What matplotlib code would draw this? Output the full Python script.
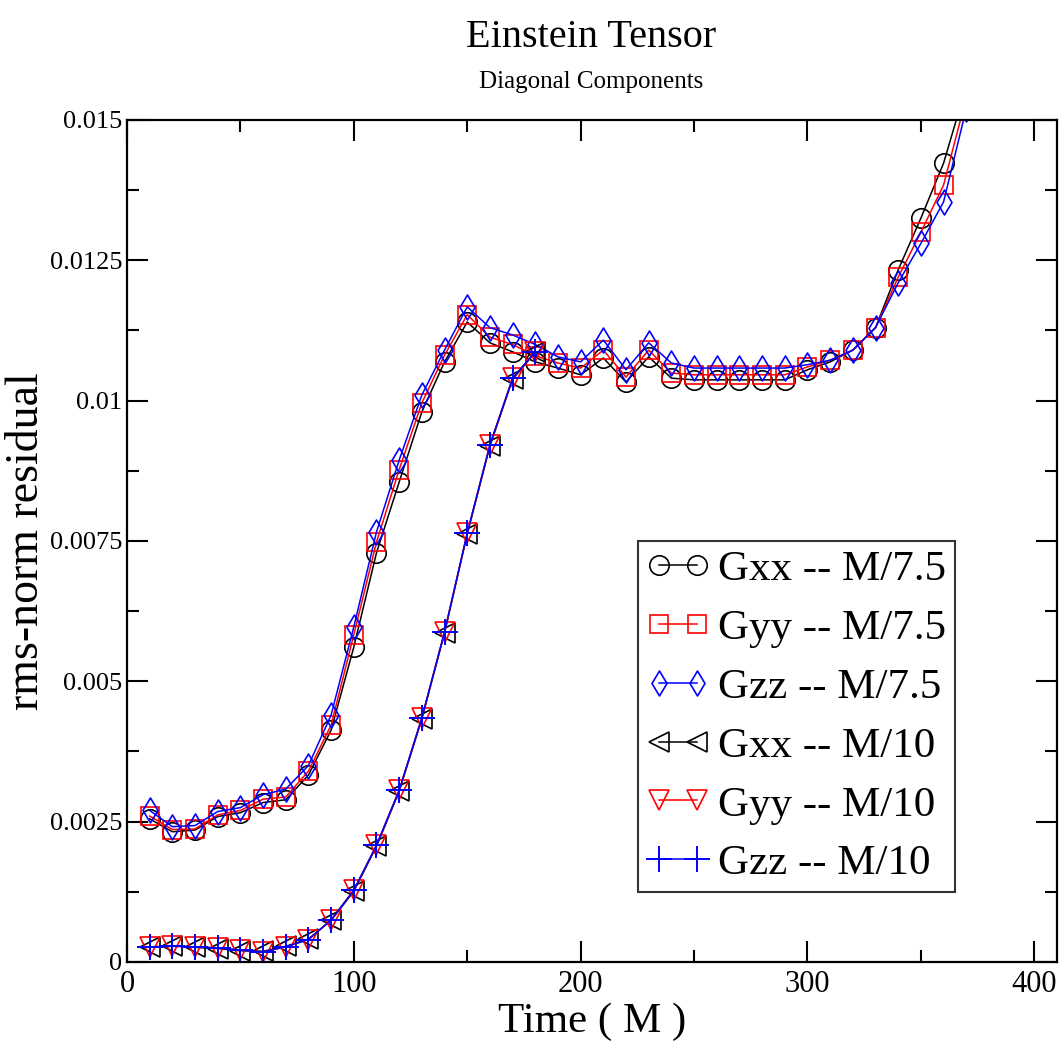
import matplotlib
matplotlib.use('Agg')
import matplotlib.pyplot as plt
from matplotlib.path import Path
from matplotlib.ticker import MultipleLocator, FuncFormatter

plt.rcParams['font.family'] = ['Liberation Serif', 'DejaVu Serif']

# ---- data ----
t_75 = [10, 20, 30, 40, 50, 60, 70, 80, 90, 100, 110, 120, 130, 140, 150, 160, 170, 180,
        190, 200, 210, 220, 230, 240, 250, 260, 270, 280, 290, 300, 310, 320, 330, 340,
        350, 360, 370]
gxx_75 = [0.00255, 0.00232, 0.00235, 0.00259, 0.00266, 0.00284, 0.00289, 0.00333, 0.00413,
          0.00561, 0.00729, 0.00855, 0.0098, 0.01069, 0.0114, 0.01103, 0.01087, 0.01069,
          0.01058, 0.01046, 0.01076, 0.01033, 0.01078, 0.0104, 0.01037, 0.01037, 0.01037,
          0.01037, 0.01037, 0.01055, 0.01069, 0.0109, 0.0113, 0.01233, 0.01325, 0.01423,
          0.0156]
gyy_75 = [0.0026, 0.00236, 0.00237, 0.00262, 0.0027, 0.0029, 0.00294, 0.0034, 0.00422,
          0.00583, 0.00748, 0.00877, 0.00996, 0.01081, 0.01153, 0.01113, 0.0110, 0.0108,
          0.01067, 0.01058, 0.0109, 0.01042, 0.0109, 0.01049, 0.01046, 0.01046, 0.01046,
          0.01046, 0.01046, 0.0106, 0.01072, 0.0109, 0.0113, 0.0122, 0.0130, 0.01384,
          0.0154]
gzz_75 = [0.0027, 0.00241, 0.00243, 0.00268, 0.00275, 0.00298, 0.00308, 0.0035, 0.0044,
          0.00597, 0.00766, 0.00894, 0.0101, 0.0109, 0.01167, 0.0113, 0.01117, 0.0110,
          0.01078, 0.01069, 0.01108, 0.01055, 0.01103, 0.01067, 0.01058, 0.01058, 0.01058,
          0.01058, 0.01058, 0.01064, 0.01072, 0.0109, 0.0113, 0.0121, 0.0128, 0.01354,
          0.0152]

t_10 = [10, 20, 30, 40, 50, 60, 70, 80, 90, 100, 110, 120, 130, 140, 150, 160, 170, 180]
gxx_10 = [0.00026, 0.00029, 0.00026, 0.00024, 0.00020, 0.00019, 0.00028, 0.00041, 0.00074,
          0.00126, 0.00206, 0.00304, 0.00433, 0.00586, 0.00762, 0.00919, 0.01038, 0.01086]
gyy_10 = [0.00027, 0.00028, 0.00027, 0.00025, 0.00021, 0.00018, 0.00027, 0.00040, 0.00075,
          0.00128, 0.00208, 0.00306, 0.00435, 0.00588, 0.00764, 0.00921, 0.01040, 0.01087]
gzz_10 = [0.00027, 0.00028, 0.00027, 0.00025, 0.00021, 0.00018, 0.00027, 0.00040, 0.00075,
          0.00128, 0.00208, 0.00306, 0.00435, 0.00588, 0.00764, 0.00921, 0.01040, 0.01087]

labels = ['Gxx -- M/7.5', 'Gyy -- M/7.5', 'Gzz -- M/7.5',
          'Gxx -- M/10', 'Gyy -- M/10', 'Gzz -- M/10']

# tall thin diamond like the grace one
diamond = Path([(0, 1), (0.6, 0), (0, -1), (-0.6, 0), (0, 1)],
               [Path.MOVETO, Path.LINETO, Path.LINETO, Path.LINETO, Path.CLOSEPOLY])

fig = plt.figure(figsize=(10.59, 10.54), dpi=100)
ax = fig.add_axes([0.1199, 0.0873, 0.8782, 0.7989])

lw = 1.1
mew = 1.2
ax.plot(t_75, gxx_75, color='black', lw=lw, marker='o', ms=14, mfc='none', mew=mew, label=labels[0])
ax.plot(t_75, gyy_75, color='red', lw=lw, marker='s', ms=13, mfc='none', mew=mew, label=labels[1])
ax.plot(t_75, gzz_75, color='blue', lw=lw, marker=diamond, ms=18, mfc='none', mew=mew, label=labels[2])
ax.plot(t_10, gxx_10, color='black', lw=lw, marker='<', ms=15, mfc='none', mew=mew, label=labels[3])
ax.plot(t_10, gyy_10, color='red', lw=lw, marker='v', ms=15, mfc='none', mew=mew, label=labels[4])
ax.plot(t_10, gzz_10, color='blue', lw=lw, marker='+', ms=19, mfc='none', mew=1.4, label=labels[5])

ax.set_xlim(0, 410)
ax.set_ylim(0, 0.015)
ax.xaxis.set_major_locator(MultipleLocator(100))
ax.xaxis.set_minor_locator(MultipleLocator(50))
ax.yaxis.set_major_locator(MultipleLocator(0.0025))
ax.yaxis.set_minor_locator(MultipleLocator(0.00125))
ax.yaxis.set_major_formatter(FuncFormatter(lambda v, p: '%g' % round(v, 6)))
ax.tick_params(which='both', direction='in', top=True, right=True, width=1.5, labelsize=19)
ax.tick_params(axis='x', labelsize=22, pad=6)
ax.tick_params(which='major', length=15)
ax.tick_params(which='minor', length=8.5)
for s in ax.spines.values():
    s.set_linewidth(1.6)

ax.set_xlabel('Time ( M )', fontsize=31, labelpad=2)
ax.set_ylabel('rms-norm residual', fontsize=33)
ax.yaxis.set_label_coords(-0.085, 0.5)

fig.text(0.558, 0.964, 'Einstein Tensor', ha='center', va='center', fontsize=29)
fig.text(0.558, 0.922, 'Diagonal Components', ha='center', va='center', fontsize=18)

leg = ax.legend(loc='lower left', bbox_to_anchor=(0.549, 0.083), borderaxespad=0,
                fontsize=31, numpoints=2, handlelength=1.47, handletextpad=0.2,
                labelspacing=0.46, borderpad=0.2, fancybox=False, frameon=True)
leg.get_frame().set_edgecolor('black')
leg.get_frame().set_linewidth(1.5)

fig.savefig('out.png', dpi=100)
